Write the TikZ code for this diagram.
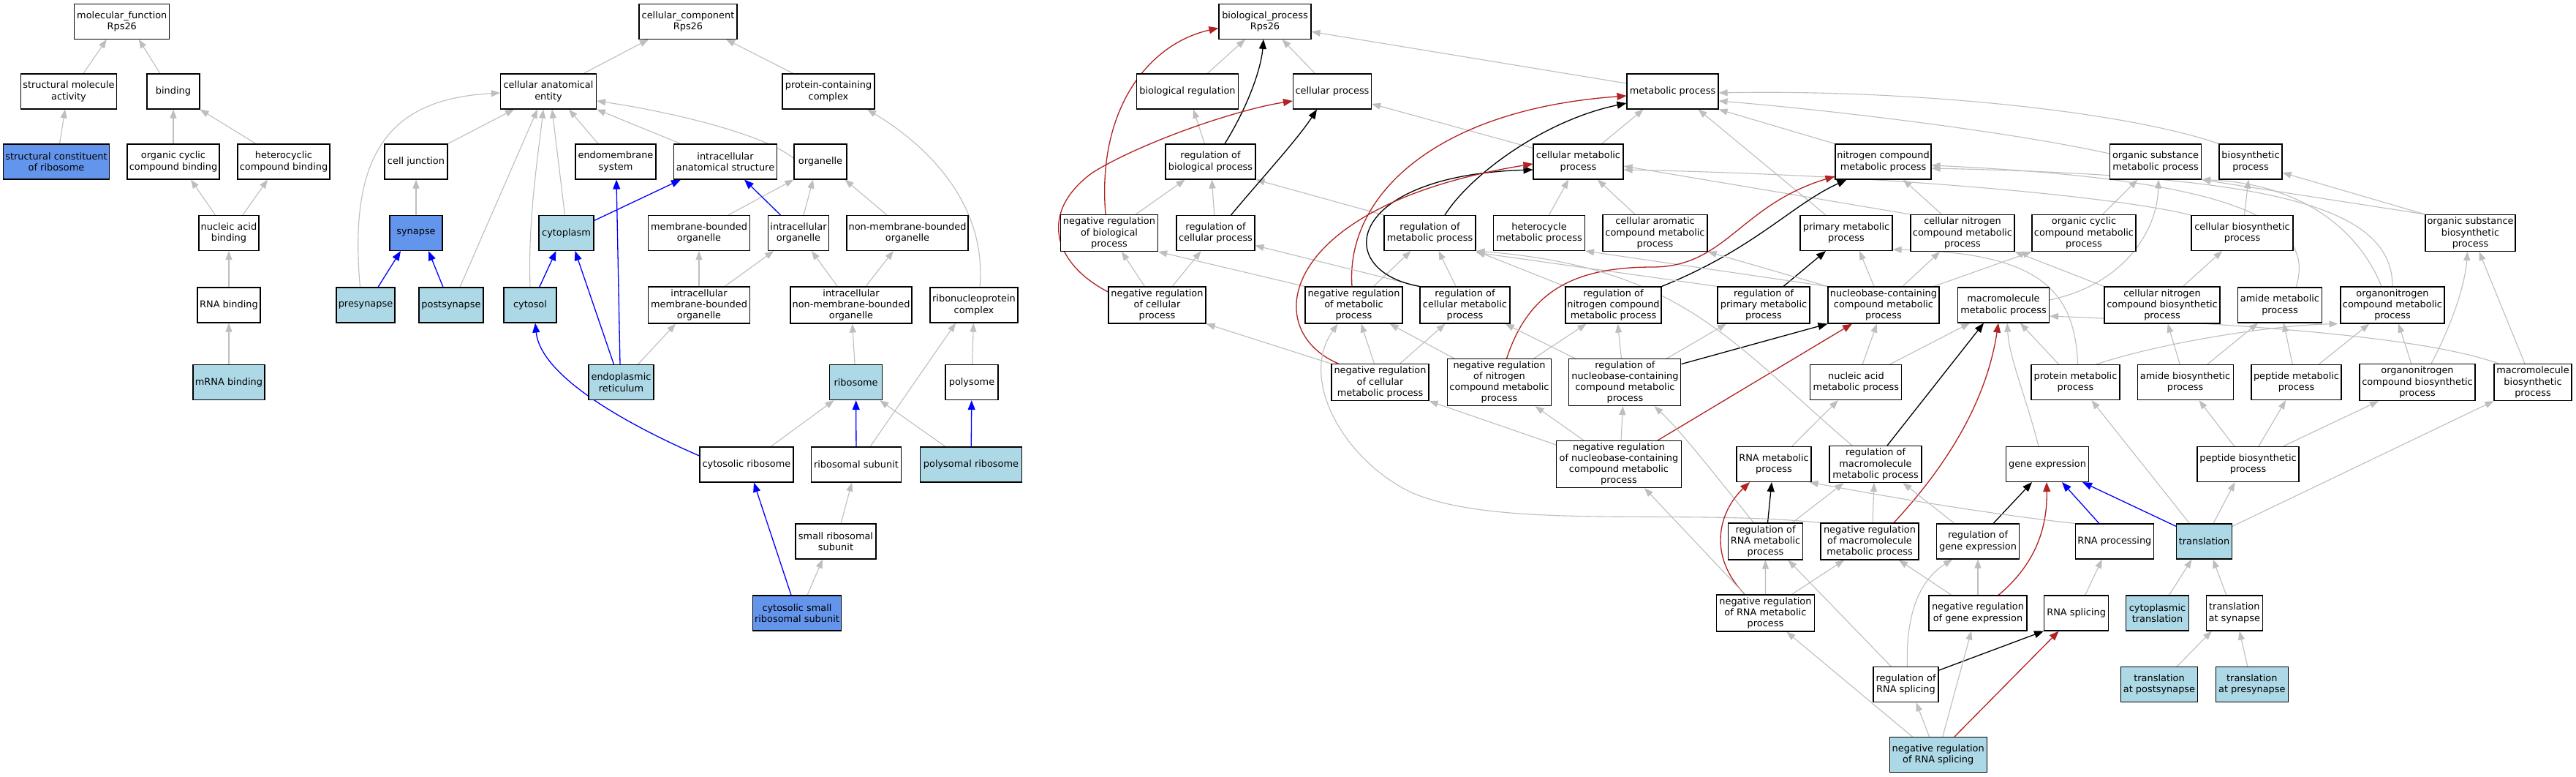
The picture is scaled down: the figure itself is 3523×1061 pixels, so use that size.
\documentclass[tikz,border=0pt]{standalone}
\usepackage{fontspec}
\newfontfamily\gof{DejaVu Sans}
\usetikzlibrary{arrows.meta}
\definecolor{lbl}{HTML}{ADD8E6}
\definecolor{cfb}{HTML}{6495ED}
\definecolor{egr}{HTML}{BEBEBE}
\definecolor{fbr}{HTML}{B22222}
\pgfdeclarelayer{bg}
\pgfsetlayers{bg,main}
\begin{document}
\begin{tikzpicture}[x=1pt,y=-1pt,
 box/.style={draw=black, line width=1.1pt, fill=white, align=center, inner xsep=2pt, inner ysep=1pt, minimum height=48pt, font=\gof\fontsize{12.9pt}{15.2pt}\selectfont},
 bw/.style={minimum width=#1pt},
 tall/.style={minimum height=50pt},
 vtall/.style={minimum height=64pt},
 lb/.style={fill=lbl},
 cb/.style={fill=cfb},
 e/.style={draw=egr, line width=1.1pt, -{Triangle[length=12pt,width=9pt]}},
 eblue/.style={draw=blue, line width=1.3pt, -{Triangle[length=13pt,width=10pt]}},
 eblk/.style={draw=black, line width=1.3pt, -{Triangle[length=13pt,width=10pt]}},
 ered/.style={draw=fbr, line width=1.3pt, -{Triangle[length=13pt,width=10pt]}}]
\useasboundingbox (0,0) rectangle (3523,1061);
\begin{pgfonlayer}{bg}
\fill[white] (0,0) rectangle (3523,1061);
\end{pgfonlayer}
% ---------------- molecular function
\node[box,bw=130] (mf) at (166.8,29.3) {molecular\_function\\Rps26};
\node[box,bw=131] (sma) at (94,125) {structural molecule\\activity};
\node[box,bw=72] (bind) at (237,125) {binding};
\node[box,cb,bw=145] (scr) at (77,221) {structural constituent\\of ribosome};
\node[box,bw=126] (occb) at (237,221) {organic cyclic\\compound binding};
\node[box,bw=126] (hcb) at (388,221) {heterocyclic\\compound binding};
\node[box,bw=82] (nab) at (313,318.5) {nucleic acid\\binding};
\node[box,bw=86] (rnab) at (313,417) {RNA binding};
\node[box,lb,bw=98] (mrnab) at (313,522.6) {mRNA binding};
% ---------------- cellular component
\node[box,bw=134] (cc) at (941,29.3) {cellular\_component\\Rps26};
\node[box,bw=131] (cae) at (750,125) {cellular anatomical\\entity};
\node[box,bw=126] (pcc) at (1133,125) {protein-containing\\complex};
\node[box,bw=86] (cj) at (569,221) {cell junction};
\node[box,bw=110] (ems) at (842,221) {endomembrane\\system};
\node[box,bw=141] (ias) at (992,221) {intracellular\\anatomical structure};
\node[box,bw=72] (org) at (1122,221) {organelle};
\node[box,cb,bw=72] (syn) at (569,318.5) {synapse};
\node[box,lb,bw=75] (cyto) at (774.5,318.5) {cytoplasm};
\node[box,bw=139] (mbo) at (956,318.5) {membrane-bounded\\organelle};
\node[box,bw=83] (io) at (1092,318.5) {intracellular\\organelle};
\node[box,bw=166] (nmbo) at (1241,318.5) {non-membrane-bounded\\organelle};
\node[box,lb,bw=80] (pre) at (500,417) {presynapse};
\node[box,lb,bw=88] (post) at (617,417) {postsynapse};
\node[box,lb,bw=72] (cytosol) at (725,417) {cytosol};
\node[box,tall,bw=139] (imbo) at (956,417) {intracellular\\membrane-bounded\\organelle};
\node[box,tall,bw=166] (inmbo) at (1164,417) {intracellular\\non-membrane-bounded\\organelle};
\node[box,bw=120] (rnp) at (1332,417) {ribonucleoprotein\\complex};
\node[box,lb,bw=89] (er) at (849.5,522.6) {endoplasmic\\reticulum};
\node[box,lb,bw=72] (ribo) at (1170.6,522.6) {ribosome};
\node[box,bw=72] (poly) at (1329,522.6) {polysome};
\node[box,bw=128] (cr) at (1021,635) {cytosolic ribosome};
\node[box,bw=123] (rs) at (1171,635) {ribosomal subunit};
\node[box,lb,bw=139] (pr) at (1328,635) {polysomal ribosome};
\node[box,bw=110] (srs) at (1143,740) {small ribosomal\\subunit};
\node[box,cb,bw=121] (csrs) at (1090,838) {cytosolic small\\ribosomal subunit};
% ---------------- biological process
\node[box,bw=126] (bp) at (1730,29.3) {biological\_process\\Rps26};
\node[box,bw=139] (breg) at (1624,125) {biological regulation};
\node[box,bw=107] (cp) at (1822,125) {cellular process};
\node[box,bw=125] (mp) at (2287.5,125) {metabolic process};
\node[box,bw=123] (rbp) at (1655.5,221) {regulation of\\biological process};
\node[box,bw=123] (cmp) at (2158.5,221) {cellular metabolic\\process};
\node[box,bw=131] (ncmp) at (2575.5,221) {nitrogen compound\\metabolic process};
\node[box,bw=125] (osmp) at (2948,221) {organic substance\\metabolic process};
\node[box,bw=86] (bsp) at (3078,221) {biosynthetic\\process};
\node[box,tall,bw=133] (nrbp) at (1517,318.5) {negative regulation\\of biological\\process};
\node[box,bw=107] (rcp) at (1662.5,318.5) {regulation of\\cellular process};
\node[box,bw=125] (rmp) at (1955.5,318.5) {regulation of\\metabolic process};
\node[box,bw=125] (hmp) at (2105,318.5) {heterocycle\\metabolic process};
\node[box,tall,bw=143] (camp) at (2263.5,318.5) {cellular aromatic\\compound metabolic\\process};
\node[box,bw=126] (pmp) at (2525,318.5) {primary metabolic\\process};
\node[box,tall,bw=142] (cncmp) at (2684,318.5) {cellular nitrogen\\compound metabolic\\process};
\node[box,tall,bw=142] (occmp) at (2850,318.5) {organic cyclic\\compound metabolic\\process};
\node[box,bw=139] (cbp) at (3066.5,318.5) {cellular biosynthetic\\process};
\node[box,tall,bw=123] (osbp) at (3378.5,318.5) {organic substance\\biosynthetic\\process};
\node[box,tall,bw=133] (nrcp) at (1582.5,417) {negative regulation\\of cellular\\process};
\node[box,tall,bw=133] (nrmp) at (1851.5,417) {negative regulation\\of metabolic\\process};
\node[box,tall,bw=123] (rcmp) at (2003.5,417) {regulation of\\cellular metabolic\\process};
\node[box,tall,bw=131] (rncmp) at (2206.5,417) {regulation of\\nitrogen compound\\metabolic process};
\node[box,tall,bw=126] (rpmp) at (2412,417) {regulation of\\primary metabolic\\process};
\node[box,tall,bw=152] (nccmp) at (2576,417) {nucleobase-containing\\compound metabolic\\process};
\node[box,bw=125] (mmp) at (2740,417) {macromolecule\\metabolic process};
\node[box,tall,bw=158] (cncbp) at (2957,417) {cellular nitrogen\\compound biosynthetic\\process};
\node[box,bw=115] (amp) at (3118,417) {amide metabolic\\process};
\node[box,tall,bw=142] (oncmp) at (3272,417) {organonitrogen\\compound metabolic\\process};
\node[box,tall,bw=133] (nrcmp) at (1887.5,522.6) {negative regulation\\of cellular\\metabolic process};
\node[box,vtall,bw=142] (nrncmp) at (2050.5,522.6) {negative regulation\\of nitrogen\\compound metabolic\\process};
\node[box,vtall,bw=153] (rnccmp) at (2222.4,522.6) {regulation of\\nucleobase-containing\\compound metabolic\\process};
\node[box,bw=125] (namp) at (2538.4,522.6) {nucleic acid\\metabolic process};
\node[box,bw=121] (prmp) at (2838.5,522.6) {protein metabolic\\process};
\node[box,bw=131] (abp) at (2988.6,522.6) {amide biosynthetic\\process};
\node[box,bw=123] (pepmp) at (3140.5,522.6) {peptide metabolic\\process};
\node[box,tall,bw=158] (oncbp) at (3306,522.6) {organonitrogen\\compound biosynthetic\\process};
\node[box,tall,bw=106] (mbp) at (3464,522.6) {macromolecule\\biosynthetic\\process};
\node[box,vtall,bw=171] (nrnccmp) at (2214,634.5) {negative regulation\\of nucleobase-containing\\compound metabolic\\process};
\node[box,bw=102] (rnamp) at (2426,634.5) {RNA metabolic\\process};
\node[box,tall,bw=126] (rmmp) at (2565,634.5) {regulation of\\macromolecule\\metabolic process};
\node[box,bw=113] (ge) at (2800,634.5) {gene expression};
\node[box,bw=139] (pepbp) at (3074.5,634.5) {peptide biosynthetic\\process};
\node[box,tall,bw=102] (rrmp) at (2414.5,740) {regulation of\\RNA metabolic\\process};
\node[box,tall,bw=134] (nrmmp) at (2557,740) {negative regulation\\of macromolecule\\metabolic process};
\node[box,bw=113] (rge) at (2705,740) {regulation of\\gene expression};
\node[box,bw=107.5] (rnap) at (2891.8,740) {RNA processing};
\node[box,lb,bw=75.5] (tl) at (3014.5,740) {translation};
\node[box,tall,bw=134] (nrrmp) at (2414.4,838) {negative regulation\\of RNA metabolic\\process};
\node[box,bw=134] (nrge) at (2705,838) {negative regulation\\of gene expression};
\node[box,bw=88] (rnas) at (2839.6,838) {RNA splicing};
\node[box,lb,bw=85.4] (ctl) at (2950.5,838) {cytoplasmic\\translation};
\node[box,bw=77] (tas) at (3055.8,838) {translation\\at synapse};
\node[box,bw=89] (rrs) at (2606.5,935.7) {regulation of\\RNA splicing};
\node[box,lb,bw=105] (tapost) at (2953,935.7) {translation\\at postsynapse};
\node[box,lb,bw=99] (tapre) at (3079.8,935.7) {translation\\at presynapse};
\node[box,lb,bw=133] (nrrs) at (2650.7,1031.8) {negative regulation\\of RNA splicing};

\begin{pgfonlayer}{bg}
% ---- MF edges
\draw[e] ([xshift=20pt]sma.north) -- ([xshift=-21pt]mf.south);
\draw[e] ([xshift=-18pt]bind.north) -- ([xshift=23pt]mf.south);
\draw[e] ([xshift=4.5pt]scr.north) -- ([xshift=-5pt]sma.south);
\draw[e] (occb) -- (bind);
\draw[e] ([xshift=-38pt]hcb.north) -- (bind.south east);
\draw[e] ([xshift=-18.5pt]nab.north) -- ([xshift=24pt]occb.south);
\draw[e] ([xshift=19pt]nab.north) -- ([xshift=-22pt]hcb.south);
\draw[e] (rnab) -- (nab);
\draw[e] (mrnab) -- (rnab);
% ---- CC edges
\draw[e] ([xshift=48pt]cae.north) -- ([xshift=-54pt]cc.south);
\draw[e] ([xshift=-48pt]pcc.north) -- ([xshift=52pt]cc.south);
\draw[e] (cj.north east) -- ([xshift=-47pt]cae.south);
\draw[e] ([xshift=-7.5pt]pre.north) .. controls (475,200) and (540,135) .. ([yshift=-2pt]cae.west);
\draw[e] ([xshift=12pt]post.north) -- ([xshift=-15pt]cae.south);
\draw[e] (cytosol.north) .. controls (722,300) and (735,220) .. ([xshift=-7pt]cae.south);
\draw[e] ([xshift=-2pt]cyto.north) -- ([xshift=5pt]cae.south);
\draw[e] ([xshift=-24pt]ems.north) -- ([xshift=28pt]cae.south);
\draw[e] ([xshift=10pt]ias.north west) -- (cae.south east);
\draw[e] ([yshift=-20pt]org.north west) .. controls (1040,180) and (900,150) .. ([yshift=-13pt]cae.east);
\draw[e] (syn) -- (cj);
\draw[e] ([xshift=40pt]mbo.north) -- (org.south west);
\draw[e] ([xshift=7pt]io.north) -- ([xshift=-10pt]org.south);
\draw[e] ([xshift=-28pt]nmbo.north) -- ([xshift=-3pt]org.south east);
\draw[e] (imbo) -- (mbo);
\draw[e] (imbo) -- (io);
\draw[e] (inmbo) -- (io);
\draw[e] (inmbo) -- (nmbo);
\draw[e] ([xshift=23pt]er.north) -- ([xshift=-32pt]imbo.south);
\draw[e] (ribo) -- (inmbo);
\draw[e] ([xshift=8pt]rnp.north) .. controls (1350,280) and (1270,200) .. ([xshift=53pt]pcc.south);
\draw[e] ([xshift=19pt]rs.north) -- ([xshift=-25pt]rnp.south);
\draw[e] (poly) -- (rnp);
\draw[e] ([xshift=33pt]cr.north) -- ([xshift=-30pt]ribo.south);
\draw[e] ([xshift=-35pt]pr.north) -- ([xshift=-4pt]ribo.south east);
\draw[e] ([xshift=7pt]srs.north) -- ([xshift=-6pt]rs.south);
\draw[e] ([xshift=14pt]csrs.north) -- ([xshift=-18pt]srs.south);
\draw[eblue] ([xshift=17pt]pre.north) -- ([xshift=-21pt]syn.south);
\draw[eblue] ([xshift=-11pt]post.north) -- ([xshift=17pt]syn.south);
\draw[eblue] ([xshift=12.7pt]cytosol.north) -- ([xshift=-14pt]cyto.south);
\draw[eblue] ([yshift=17pt]cyto.east) -- ([xshift=-61pt]ias.south);
\draw[eblue] ([xshift=-24.5pt]io.north) -- ([xshift=26pt]ias.south);
\draw[eblue] ([xshift=-10pt]er.north) -- ([xshift=12pt]cyto.south);
\draw[eblue] ([xshift=-1.5pt]er.north) -- ([xshift=1pt]ems.south);
\draw[eblue] ([yshift=12pt]cr.west) .. controls (880,590) and (740,520) .. ([xshift=7pt]cytosol.south);
\draw[eblue] (rs) -- (ribo);
\draw[eblue] (pr) -- (poly);
\draw[eblue] ([xshift=-8pt]csrs.north) -- ([xshift=10pt]cr.south);
% ---- BP edges: top
\draw[e] (breg) -- (bp);
\draw[e] (cp) -- (bp);
\draw[e] ([yshift=11pt]mp.west) -- ([yshift=-14pt]bp.east);
\draw[eblk] ([xshift=19.5pt]rbp.north) .. controls (1710,140) and (1725,90) .. ([xshift=-2pt]bp.south);
\draw[ered] ([xshift=-5pt]nrbp.north) .. controls (1500,150) and (1570,60) .. ([yshift=-9pt]bp.west);
\draw[e] (rbp) -- (breg);
\draw[e] (rcp) -- (rbp);
\draw[e] (nrbp) -- (rbp);
\draw[e] (rmp.north west) -- (rbp.south east);
\draw[eblk] ([xshift=21pt]rcp.north) .. controls (1720,250) and (1775,190) .. ([xshift=-21pt]cp.south);
\draw[ered] ([yshift=18pt]nrcp.west) .. controls (1440,360) and (1420,290) .. (1494,236) .. controls (1560,195) and (1690,150) .. ([yshift=-13pt]cp.west);
\draw[e] ([yshift=-6pt]cmp.north west) -- ([yshift=-17pt]cp.east);
\draw[e] ([xshift=-30pt]cmp.north east) -- ([xshift=-40pt]mp.south);
\draw[eblk] ([xshift=20.5pt]rmp.north) .. controls (2010,240) and (2110,165) .. ([yshift=-16pt]mp.west);
\draw[ered] ([xshift=-2.5pt]nrmp.north) .. controls (1840,270) and (1960,150) .. ([yshift=-6pt]mp.west);
\draw[e] (ncmp.north west) -- (mp.south east);
\draw[e] ([xshift=-28pt]pmp.north) -- ([xshift=35pt]mp.south);
\draw[e] ([yshift=11pt]osmp.west) .. controls (2750,180) and (2500,150) .. ([yshift=-13pt]mp.east);
\draw[e] (bsp.north west) .. controls (2900,150) and (2600,122) .. ([yshift=-2pt]mp.east);
% row 4
\draw[e] (hmp) -- (cmp);
\draw[e] (camp) -- (cmp);
\draw[e] (cncmp) -- (ncmp);
\draw[e] (cncmp.north west) -- ([yshift=-6pt]cmp.east);
\draw[e] (occmp) -- (osmp);
\draw[e] (cbp) -- (bsp);
\draw[e] (cbp.north west) .. controls (2900,270) and (2600,240) .. ([yshift=-11pt]cmp.east);
\draw[e] (osbp.north west) -- (osmp.south east);
\draw[e] (osbp.north west) -- ([yshift=-15pt]bsp.east);
% row 5
\draw[e] (nrcp) -- (nrbp);
\draw[e] (nrcp) -- (rcp);
\draw[e] (nrmp.north west) -- (nrbp.south east);
\draw[e] (nrmp) -- (rmp);
\draw[e] (rcmp.north west) -- ([yshift=-17pt]rcp.east);
\draw[e] (rcmp) -- (rmp);
\draw[eblk] (rcmp.north west) .. controls (1820,370) and (1840,240) .. ([yshift=-11pt]cmp.west);
\draw[e] (rncmp.north west) -- (rmp.south east);
\draw[eblk] (rncmp.north east) .. controls (2400,340) and (2450,280) .. ([xshift=-50pt]ncmp.south);
\draw[e] (rpmp.north west) -- ([yshift=-2pt]rmp.south east);
\draw[eblk] ([xshift=27pt]rpmp.north) -- ([xshift=-28pt]pmp.south);
\draw[e] (nccmp.north west) -- (hmp.south east);
\draw[e] (nccmp.north west) -- (camp.south east);
\draw[e] ([xshift=-13pt]nccmp.north) -- ([xshift=18pt]pmp.south);
\draw[e] ([xshift=26pt]nccmp.north) -- ([xshift=-31pt]cncmp.south);
\draw[e] ([xshift=-8pt]nccmp.north east) -- (occmp.south west);
\draw[e] ([yshift=7pt]mmp.east) .. controls (2900,390) and (2950,320) .. ([xshift=4pt]osmp.south);
\draw[e] (cncbp.north west) -- (cncmp.south east);
\draw[e] (cncbp) -- (cbp);
\draw[e] ([xshift=22pt]amp.north) .. controls (3170,300) and (3050,245) .. ([yshift=-5pt]ncmp.east);
\draw[e] (oncmp.north) .. controls (3272,280) and (3100,240) .. ([yshift=-9pt]ncmp.east);
\draw[e] ([xshift=-15pt]oncmp.north) .. controls (3220,300) and (3130,250) .. (osmp.south east);
% row 6
\draw[e] (nrcmp.north west) -- (nrcp.south east);
\draw[e] ([xshift=-8pt]nrcmp.north) -- ([xshift=10pt]nrmp.south);
\draw[e] ([xshift=27pt]nrcmp.north) -- ([xshift=-27pt]rcmp.south);
\draw[ered] ([xshift=10pt]nrcmp.north west) .. controls (1720,450) and (1750,280) .. ([yshift=-3pt]cmp.west);
\draw[e] ([xshift=10pt]nrncmp.north west) -- ([xshift=-18pt]nrmp.south east);
\draw[e] ([xshift=47pt]nrncmp.north) -- ([xshift=-37pt]rncmp.south);
\draw[ered] ([xshift=10pt]nrncmp.north) .. controls (2090,400) and (2150,365) .. (2260,365) .. controls (2360,365) and (2380,280) .. ([yshift=-20pt]ncmp.west);
\draw[e] ([xshift=9pt]rnccmp.north west) -- ([xshift=-7pt]rcmp.south east);
\draw[e] ([xshift=-5pt]rnccmp.north) -- ([xshift=6pt]rncmp.south);
\draw[e] ([xshift=57pt]rnccmp.north) -- ([xshift=-51pt]rpmp.south);
\draw[eblk] ([yshift=25pt]rnccmp.east) -- (nccmp.south west);
\draw[e] (namp) -- (nccmp);
\draw[e] ([xshift=46pt]namp.north) -- ([xshift=-46pt]mmp.south);
\draw[e] (prmp) -- (mmp);
\draw[e] ([xshift=3pt]prmp.north) .. controls (2838,390) and (2780,345) .. ([yshift=-22.5pt]pmp.east);
\draw[e] ([xshift=28pt]prmp.north) .. controls (2950,470) and (3100,445) .. ([xshift=-3pt]oncmp.south west);
\draw[e] (abp) -- (cncbp);
\draw[e] (abp) -- (amp);
\draw[e] (pepmp) -- (amp);
\draw[e] (pepmp) -- (oncmp);
\draw[e] (oncbp) -- (oncmp);
\draw[e] ([xshift=19pt]oncbp.north) .. controls (3360,430) and (3372,380) .. ([xshift=-4pt]osbp.south);
\draw[e] ([xshift=-11pt]mbp.north) -- ([xshift=12pt]osbp.south);
\draw[e] ([xshift=7pt]mbp.north west) .. controls (3300,455) and (3000,440) .. ([yshift=-15pt]mmp.east);
% row 7
\draw[e] ([yshift=-6pt]nrnccmp.north west) -- (nrcmp.south east);
\draw[e] ([xshift=-48pt]nrnccmp.north) -- ([xshift=49pt]nrncmp.south);
\draw[e] ([xshift=3pt]nrnccmp.north) -- ([xshift=-3pt]rnccmp.south);
\draw[ered] ([xshift=53pt]nrnccmp.north) -- ([xshift=-43pt]nccmp.south);
\draw[e] (rnamp) -- (namp);
\draw[eblk] ([xshift=16pt]rmmp.north) -- ([xshift=-27pt]mmp.south);
\draw[e] ([xshift=-32pt]rmmp.north) .. controls (2370,470) and (2300,365) .. (rmp.south east);
\draw[e] ([xshift=-12pt]ge.north) .. controls (2770,540) and (2748,490) .. ([xshift=5pt]mmp.south);
\draw[e] (pepbp) -- (abp);
\draw[e] (pepbp) -- (pepmp);
\draw[e] ([xshift=48pt]pepbp.north) -- ([xshift=-53pt]oncbp.south);
% row 8
\draw[eblk] ([xshift=3pt]rrmp.north) -- ([xshift=-3pt]rnamp.south);
\draw[e] ([xshift=-15pt]rrmp.north east) -- ([xshift=20pt]rmmp.south west);
\draw[e] ([xshift=-16pt]rrmp.north) .. controls (2350,655) and (2300,590) .. ([xshift=40pt]rnccmp.south);
\draw[e] ([xshift=4pt]nrmmp.north) -- ([xshift=-2pt]rmmp.south);
\draw[ered] ([xshift=33pt]nrmmp.north) .. controls (2650,650) and (2715,560) .. ([xshift=-7pt]mmp.south);
\draw[e] (nrmmp.north west) .. controls (2300,695) and (2050,725) .. (1930,673) .. controls (1840,630) and (1775,520) .. ([xshift=-22pt]nrmp.south);
\draw[e] ([xshift=25pt]rge.north west) -- ([xshift=-26pt]rmmp.south east);
\draw[eblk] ([xshift=21pt]rge.north) -- ([xshift=-21pt]ge.south);
\draw[eblue] ([xshift=-21pt]rnap.north) -- ([xshift=20pt]ge.south);
\draw[e] (rnap.north west) .. controls (2700,700) and (2560,675) .. ([xshift=-3pt]rnamp.south east);
\draw[eblue] ([yshift=-4pt]tl.north west) -- ([xshift=-9pt]ge.south east);
\draw[e] ([xshift=-20pt]tl.north) -- ([xshift=22pt]prmp.south);
\draw[e] ([xshift=12.5pt]tl.north) -- ([xshift=-18pt]pepbp.south);
\draw[e] ([yshift=-4pt]tl.north east) -- (mbp.south west);
% row 9
\draw[ered] ([xshift=-28pt]nrrmp.north) .. controls (2335,760) and (2350,700) .. ([xshift=-33pt]rnamp.south);
\draw[e] (nrrmp) -- (rrmp);
\draw[e] ([xshift=-28pt]nrrmp.north) -- ([xshift=35pt]nrnccmp.south);
\draw[e] ([xshift=36pt]nrrmp.north) -- ([xshift=-35pt]nrmmp.south);
\draw[ered] ([xshift=28pt]nrge.north) .. controls (2785,770) and (2800,720) .. ([xshift=-1pt]ge.south);
\draw[e] (nrge) -- (rge);
\draw[e] ([xshift=-36pt]nrge.north) -- ([xshift=40pt]nrmmp.south);
\draw[e] ([xshift=12pt]rnas.north) -- ([xshift=-17pt]rnap.south);
\draw[e] ([xshift=16pt]ctl.north) -- ([xshift=-17pt]tl.south);
\draw[e] ([xshift=-11pt]tas.north) -- ([xshift=12pt]tl.south);
% row 10
\draw[eblk] ([yshift=-5pt]rrs.north east) -- (rnas.south west);
\draw[e] ([xshift=2pt]rrs.north) .. controls (2606,830) and (2630,790) .. ([xshift=-35pt]rge.south);
\draw[e] ([xshift=-20pt]rrs.north) -- ([xshift=31pt]rrmp.south);
\draw[e] ([xshift=24pt]tapost.north) -- ([xshift=-31pt]tas.south);
\draw[e] ([xshift=-6pt]tapre.north) -- ([xshift=7pt]tas.south);
% row 11
\draw[ered] ([xshift=22pt]nrrs.north) -- ([xshift=-24pt]rnas.south);
\draw[e] ([xshift=-12pt]nrrs.north) -- ([xshift=14pt]rrs.south);
\draw[e] ([xshift=6pt]nrrs.north) -- ([xshift=-9pt]nrge.south);
\draw[e] ([xshift=-35pt]nrrs.north) -- ([xshift=29pt]nrrmp.south);
\end{pgfonlayer}
\end{tikzpicture}
\end{document}
